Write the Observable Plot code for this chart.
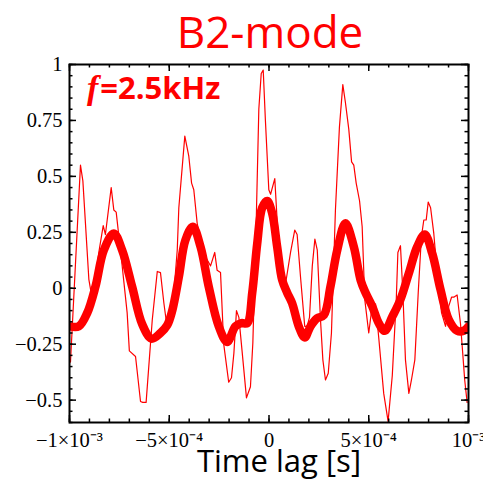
<!DOCTYPE html>
<html>
<head>
<meta charset="utf-8">
<script src="https://cdn.jsdelivr.net/npm/d3@7"></script>
<script src="https://cdn.jsdelivr.net/npm/@observablehq/plot@0.6"></script>
<style>
  html, body { margin: 0; padding: 0; background: #fff; }
  #chart svg { display: block; }
</style>
</head>
<body>
<div id="chart"></div>
<script>
// ---- data (time lag in seconds, correlation value) ----
const thinLag = [-9.95e-4,-9.45e-4,-9.33e-4,-9.03e-4,-8.86e-4,-8.53e-4,-8.31e-4,-8.20e-4,-7.91e-4,-7.78e-4,
  -7.66e-4,-7.36e-4,-7.11e-4,-7.00e-4,-6.69e-4,-6.44e-4,-6.33e-4,-6.16e-4,-5.85e-4,-5.60e-4,
  -5.44e-4,-5.27e-4,-5.10e-4,-4.85e-4,-4.60e-4,-4.52e-4,-4.22e-4,-4.02e-4,-3.88e-4,-3.77e-4,
  -3.60e-4,-3.43e-4,-3.18e-4,-2.93e-4,-2.72e-4,-2.60e-4,-2.43e-4,-2.27e-4,-2.02e-4,-1.88e-4,
  -1.76e-4,-1.63e-4,-1.51e-4,-1.34e-4,-1.13e-4,-0.93e-4,-0.81e-4,-0.64e-4,-0.51e-4,-0.39e-4,
  -0.29e-4,-0.18e-4,-0.01e-4,0.08e-4,0.29e-4,0.41e-4,0.58e-4,0.83e-4,1.08e-4,1.29e-4,
  1.41e-4,1.58e-4,1.79e-4,1.91e-4,2.03e-4,2.17e-4,2.30e-4,2.42e-4,2.58e-4,2.70e-4,
  2.83e-4,2.97e-4,3.13e-4,3.33e-4,3.53e-4,3.70e-4,3.83e-4,4.00e-4,4.14e-4,4.25e-4,
  4.37e-4,4.54e-4,4.67e-4,4.80e-4,5.00e-4,5.17e-4,5.34e-4,5.50e-4,5.75e-4,5.97e-4,
  6.18e-4,6.38e-4,6.46e-4,6.59e-4,6.71e-4,6.84e-4,7.01e-4,7.14e-4,7.31e-4,7.48e-4,
  7.64e-4,7.76e-4,7.88e-4,7.98e-4,8.10e-4,8.26e-4,8.43e-4,8.65e-4,8.85e-4,9.01e-4,
  9.15e-4,9.26e-4,9.43e-4,9.60e-4,9.71e-4,9.81e-4,9.93e-4];
const thinValue = [-0.33,0.55,0.48,0.04,-0.05,0.16,0.28,0.24,0.45,0.35,
  0.34,0.10,-0.11,-0.28,-0.305,-0.506,-0.51,-0.51,-0.14,0.075,
  0.07,-0.066,-0.18,-0.11,0.17,0.36,0.68,0.59,0.47,0.44,
  0.29,0.22,0.14,0.10,0.16,0.08,0.07,-0.25,-0.42,-0.40,
  -0.29,-0.10,-0.13,-0.29,-0.49,-0.44,-0.245,0.30,0.80,0.96,
  0.975,0.75,0.44,0.42,0.49,0.30,0.10,0.02,0.16,0.26,
  0.24,0.05,-0.17,-0.17,-0.13,0.10,0.22,0.17,-0.14,-0.32,
  -0.41,-0.38,-0.20,0.35,0.72,0.91,0.83,0.71,0.565,0.55,
  0.47,0.39,0.275,-0.05,-0.20,-0.08,-0.07,-0.22,-0.47,-0.595,
  -0.39,-0.05,0.16,0.19,-0.02,-0.32,-0.47,-0.41,-0.32,-0.02,
  0.23,0.305,0.305,0.385,0.36,0.245,0.067,-0.11,-0.17,-0.08,
  -0.04,-0.04,-0.03,-0.16,-0.29,-0.41,-0.51];

const smoothLag = [-10e-4,-9.53e-4,-9.11e-4,-8.70e-4,-8.28e-4,-7.78e-4,-7.36e-4,-6.86e-4,-6.36e-4,-5.89e-4,
  -5.44e-4,-5.10e-4,-4.85e-4,-4.52e-4,-4.19e-4,-3.82e-4,-3.43e-4,-3.02e-4,-2.52e-4,-2.10e-4,
  -1.68e-4,-1.38e-4,-1.09e-4,-0.84e-4,-0.59e-4,-0.34e-4,-0.09e-4,0.16e-4,0.41e-4,0.66e-4,
  0.91e-4,1.16e-4,1.49e-4,1.79e-4,2.08e-4,2.42e-4,2.75e-4,3.08e-4,3.42e-4,3.83e-4,
  4.25e-4,4.59e-4,4.84e-4,5.17e-4,5.50e-4,5.80e-4,6.18e-4,6.59e-4,7.01e-4,7.43e-4,
  7.81e-4,8.18e-4,8.60e-4,9.01e-4,9.43e-4,9.76e-4,10e-4];
const smoothValue = [-0.17,-0.17,-0.11,0.007,0.17,0.245,0.17,0.007,-0.16,-0.225,
  -0.20,-0.165,-0.10,0.05,0.215,0.275,0.185,0.007,-0.17,-0.24,
  -0.17,-0.156,-0.156,-0.02,0.20,0.36,0.39,0.335,0.185,0.037,
  -0.02,-0.067,-0.17,-0.22,-0.17,-0.134,-0.12,0.007,0.17,0.29,
  0.186,0.037,-0.02,-0.08,-0.156,-0.19,-0.127,-0.05,0.067,0.186,
  0.24,0.156,-0.007,-0.14,-0.19,-0.19,-0.17];

const xTicks = [-1e-3, -5e-4, 0, 5e-4, 1e-3];
const xTickLabels = ["\u22121\u00d710\u207b\u00b3", "\u22125\u00d710\u207b\u2074", "0", "5\u00d710\u207b\u2074", "10\u207b\u00b3"];
const yTicks = [-0.5, -0.25, 0, 0.25, 0.5, 0.75, 1];
const yTickLabels = ["\u22120.5", "\u22120.25", "0", "0.25", "0.5", "0.75", "1"];
const xDomain = [-1e-3, 1e-3];
const yDomain = [-0.6, 1];
const xMinorTicks = d3.ticks(-1e-3, 1e-3, 20);
const yMinorTicks = d3.ticks(-0.6, 1, 32);

const titleText = "B2-mode";
const xLabelText = "Time lag [s]";
const annotationItalic = "f";
const annotationRest = "=2.5kHz";

// ---- build ----
const thin = thinLag.map((t, i) => ({t, v: thinValue[i]}));
const smooth = smoothLag.map((t, i) => ({t, v: smoothValue[i]}));
const red = "#ff0000";
const serif = "'Liberation Serif', 'Times New Roman', serif";

const W = 483, H = 479, mL = 69, mR = 15, mT = 64, mB = 57;
const frameW = W - mL - mR, frameH = H - mT - mB;
const majorLen = 7, minorLen = 3.5;
const tickStyle = {stroke: "#000", strokeWidth: 1.5};

const chart = Plot.plot({
  width: W,
  height: H,
  marginLeft: mL,
  marginRight: mR,
  marginTop: mT,
  marginBottom: mB,
  style: {fontFamily: serif, background: "#fff", color: "#000"},
  x: {domain: xDomain},
  y: {domain: yDomain},
  marks: [
    Plot.line(thin, {x: "t", y: "v", stroke: red, strokeWidth: 1.2, clip: true}),
    Plot.line(smooth, {x: "t", y: "v", stroke: red, strokeWidth: 8.5, curve: "catmull-rom", strokeLinejoin: "round", clip: true}),
    // inward tick marks on all four sides
    Plot.tickX(xTicks, {x: d => d, insetTop: frameH - majorLen, ...tickStyle}),
    Plot.tickX(xTicks, {x: d => d, insetBottom: frameH - majorLen, ...tickStyle}),
    Plot.tickX(xMinorTicks, {x: d => d, insetTop: frameH - minorLen, ...tickStyle}),
    Plot.tickX(xMinorTicks, {x: d => d, insetBottom: frameH - minorLen, ...tickStyle}),
    Plot.tickY(yTicks, {y: d => d, insetRight: frameW - majorLen, ...tickStyle}),
    Plot.tickY(yTicks, {y: d => d, insetLeft: frameW - majorLen, ...tickStyle}),
    Plot.tickY(yMinorTicks, {y: d => d, insetRight: frameW - minorLen, ...tickStyle}),
    Plot.tickY(yMinorTicks, {y: d => d, insetLeft: frameW - minorLen, ...tickStyle}),
    // tick labels
    Plot.axisX({ticks: xTicks, tickFormat: d => xTickLabels[xTicks.indexOf(d)], tickSize: 0, tickPadding: 10, anchor: "bottom", label: null}),
    Plot.axisY({ticks: yTicks, tickFormat: d => yTickLabels[yTicks.indexOf(d)], tickSize: 0, tickPadding: 7, anchor: "left", label: null}),
    Plot.frame({stroke: "#000", strokeWidth: 2})
  ]
});

const svg = d3.select(chart);
// enlarge the tick labels (serif, like the original)
svg.selectAll("text")
  .filter(function () { return xTickLabels.includes(this.textContent) || yTickLabels.includes(this.textContent); })
  .style("font-size", "20.5px")
  .style("font-family", serif);

svg.append("text")
  .attr("x", 270).attr("y", 48)
  .attr("text-anchor", "middle")
  .attr("font-family", "'Open Sans', sans-serif")
  .attr("font-size", 44)
  .attr("fill", red)
  .text(titleText);

svg.append("text")
  .attr("x", 279).attr("y", 472)
  .attr("text-anchor", "middle")
  .attr("font-family", "'Open Sans', sans-serif")
  .attr("font-size", 31)
  .attr("fill", "#000")
  .text(xLabelText);

const ann = svg.append("text")
  .attr("x", 87).attr("y", 99)
  .attr("text-anchor", "start")
  .attr("font-size", 31)
  .attr("font-weight", "bold")
  .attr("fill", red);
ann.append("tspan")
  .attr("font-family", serif)
  .attr("font-style", "italic")
  .attr("font-size", 34)
  .text(annotationItalic);
ann.append("tspan")
  .attr("font-family", "'Open Sans', sans-serif")
  .attr("dx", 2)
  .text(annotationRest);

document.getElementById("chart").appendChild(chart);
</script>
</body>
</html>
